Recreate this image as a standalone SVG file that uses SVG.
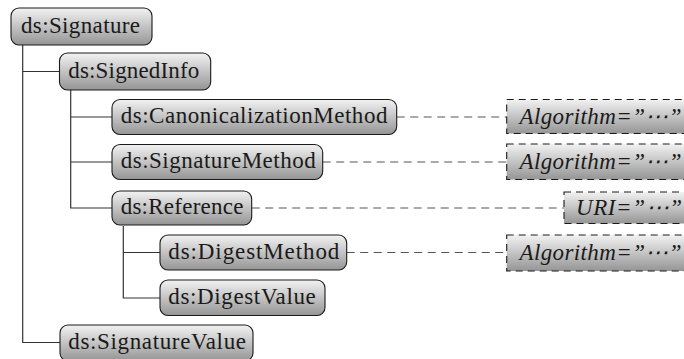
<svg xmlns="http://www.w3.org/2000/svg" width="684" height="359" viewBox="0 0 684 359">
<defs>
<linearGradient id="g" x1="0" y1="0" x2="0" y2="1">
<stop offset="0" stop-color="#f2f2f2"/>
<stop offset="1" stop-color="#959595"/>
</linearGradient>
<style>
.n{fill:url(#g);stroke:#1a1a1a;stroke-width:1.1}
.a{fill:url(#g);stroke:#1a1a1a;stroke-width:1.1;stroke-dasharray:7 5}
text{font-family:'Liberation Serif','DejaVu Serif','Times New Roman',serif}
.t{font-size:23px;fill:#1a1a1a}
.i{font-size:23px;font-style:italic;fill:#1a1a1a}
.tree{fill:none;stroke:#333;stroke-width:1.2}
.dash{fill:none;stroke:#555;stroke-width:1.2;stroke-dasharray:8 5.5}
</style>
</defs>
<rect width="684" height="359" fill="#fff"/>
<g id="connectors">
<path class="tree" d="M22.7 44.5V342.5H60M22.7 71.5H59.5"/>
<path class="tree" d="M70.7 89.5V208H112M70.7 117H112M70.7 162H112"/>
<path class="tree" d="M123.3 226V298H160M123.3 252.5H160"/>
<path class="dash" d="M396.7 117H506.7"/>
<path class="dash" d="M322.7 162H506.7"/>
<path class="dash" d="M251.7 208H564"/>
<path class="dash" d="M346.7 252.5H506.7"/>
</g>
<g id="signature"><rect class="n" x="11" y="8" width="141" height="37" rx="8"/><text class="t" x="21" y="32.5" textLength="119">ds:Signature</text></g>
<g id="signedinfo"><rect class="n" x="59.5" y="53" width="151.2" height="37" rx="8"/><text class="t" x="68.3" y="77.5" textLength="131">ds:SignedInfo</text></g>
<g id="canonicalizationmethod"><rect class="n" x="112" y="99.5" width="284.7" height="35" rx="8"/><text class="t" x="120.7" y="123" textLength="266.7">ds:CanonicalizationMethod</text></g>
<g id="signaturemethod"><rect class="n" x="112" y="144.5" width="210.7" height="35" rx="8"/><text class="t" x="120.7" y="168" textLength="195">ds:SignatureMethod</text></g>
<g id="reference"><rect class="n" x="112" y="191" width="139.7" height="34" rx="8"/><text class="t" x="120.7" y="214" textLength="122.7">ds:Reference</text></g>
<g id="digestmethod"><rect class="n" x="160" y="235" width="186.7" height="35" rx="8"/><text class="t" x="168.3" y="258.5" textLength="171">ds:DigestMethod</text></g>
<g id="digestvalue"><rect class="n" x="160" y="280" width="165" height="35.5" rx="8"/><text class="t" x="168.3" y="304" textLength="147.5">ds:DigestValue</text></g>
<g id="signaturevalue"><rect class="n" x="60" y="325" width="193" height="36" rx="8"/><text class="t" x="68.3" y="348.5" textLength="177.7">ds:SignatureValue</text></g>
<g id="attr-canonicalization"><rect class="a" x="506.7" y="99.5" width="200" height="34"/><text class="i" x="519.5" y="123.5" textLength="162">Algorithm=”⋯”</text></g>
<g id="attr-signaturemethod"><rect class="a" x="506.7" y="144" width="200" height="35.5"/><text class="i" x="519.5" y="168.5" textLength="162">Algorithm=”⋯”</text></g>
<g id="attr-reference"><rect class="a" x="564" y="192" width="150" height="31.5"/><text class="i" x="576" y="214.5" textLength="106">URI=”⋯”</text></g>
<g id="attr-digestmethod"><rect class="a" x="506.7" y="235" width="200" height="36"/><text class="i" x="519.5" y="259.5" textLength="162">Algorithm=”⋯”</text></g>
</svg>
